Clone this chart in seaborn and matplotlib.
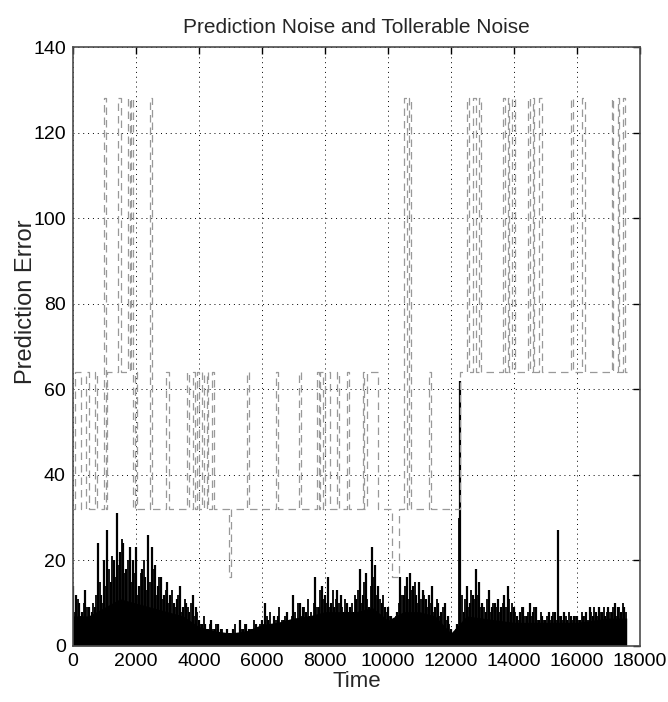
import numpy as np
import pandas as pd
import matplotlib
matplotlib.use("Agg")
import matplotlib.pyplot as plt
import seaborn as sns

# prediction noise: spike heights read every 100 time steps
noise_step = 100
noise_peak = [
    14, 12, 10, 8, 13, 9, 8, 9, 24, 12,
    20, 27, 15, 20, 31, 22, 24, 18, 23, 20,
    23, 14, 18, 16, 26, 23, 19, 14, 16, 12,
    15, 12, 10, 11, 14, 9, 10, 8, 12, 9,
    6, 5, 5, 4, 6, 4, 5, 4, 3, 4,
    3, 4, 3, 6, 4, 5, 4, 4, 5, 4,
    6, 10, 6, 5, 7, 7, 5, 6, 8, 5,
    12, 6, 10, 9, 8, 7, 6, 16, 9, 14,
    12, 16, 10, 9, 13, 12, 8, 10, 9, 8,
    11, 18, 12, 17, 9, 23, 19, 14, 10, 9,
    9, 7, 6, 8, 16, 12, 16, 17, 14, 12,
    15, 13, 11, 12, 14, 9, 10, 8, 10, 7,
    4, 3, 5, 62, 8, 14, 10, 12, 18, 15,
    10, 8, 13, 9, 10, 11, 9, 12, 14, 8,
    9, 7, 8, 9, 7, 10, 8, 9, 6, 7,
    6, 8, 7, 8, 27, 7, 8, 6, 7, 7,
    7, 6, 7, 8, 9, 7, 8, 9, 8, 7,
    9, 8, 10, 9, 8, 9,
]
# smaller spikes sitting halfway between the ones above
noise_mid = [
    8, 11, 7, 10, 9, 7, 10, 12, 15, 10,
    14, 18, 21, 16, 19, 25, 17, 20, 15, 17,
    12, 17, 20, 13, 15, 18, 12, 16, 11, 13,
    10, 13, 9, 12, 8, 11, 9, 10, 7, 8,
    5, 7, 4, 5, 4, 5, 3, 4, 3, 3,
    3, 5, 3, 4, 5, 3, 4, 6, 3, 5,
    5, 7, 8, 5, 6, 9, 6, 7, 6, 7,
    8, 10, 7, 9, 11, 8, 10, 9, 13, 11,
    10, 9, 13, 11, 10, 9, 11, 8, 10, 12,
    13, 10, 15, 11, 14, 16, 12, 11, 12, 8,
    7, 6, 7, 10, 12, 14, 11, 13, 15, 10,
    11, 12, 9, 10, 8, 11, 7, 9, 6, 5,
    3, 4, 30, 12, 11, 9, 13, 11, 12, 9,
    9, 11, 8, 10, 9, 8, 10, 9, 11, 10,
    8, 6, 9, 7, 8, 7, 9, 6, 8, 6,
    7, 6, 8, 6, 7, 6, 7, 8, 6, 7,
    6, 8, 7, 6, 8, 9, 7, 8, 9, 8,
    8, 9, 7, 9, 10, 8,
]
noise_time = np.arange(len(noise_peak)) * noise_step
mid_time = noise_time + noise_step // 2

# dense floor of the noise band
base_time = [0, 500, 1000, 1500, 2000, 2500, 3000, 3500, 4000, 4500,
             5000, 5500, 6000, 6500, 7000, 7500, 8000, 8500, 9000, 9500,
             10000, 10500, 11000, 11500, 12000, 12500, 13000, 13500, 14000, 14500,
             15000, 15500, 16000, 16500, 17000, 17580]
base_level = [7, 7, 9, 11, 10, 9, 8, 7, 4.5, 3.5,
              3, 3.5, 5, 5.5, 6.5, 7, 8, 8, 8, 9,
              6, 8, 8, 7, 3, 7, 6.5, 6, 5.5, 5.5,
              5.5, 5.5, 5.5, 6, 6.5, 6.5]

# tollerable noise: switching times and level after each switch
tol_time = [0, 60, 250, 420, 520, 700, 760, 1000, 1060, 1100,
            1450, 1520, 1760, 1800, 1860, 1900, 1980, 2030, 2440, 2520,
            2950, 3050, 3620, 3700, 3800, 3870, 3950, 4020, 4100, 4150,
            4250, 4300, 4420, 4480, 4950, 5020, 5530, 5600, 6440, 6500,
            7180, 7240, 7740, 7800, 7860, 7950, 8000, 8150, 8400, 8450,
            8700, 8780, 9200, 9250, 9350, 9700, 10120, 10350, 10520, 10600,
            10660, 10720, 11300, 11360, 12280, 12500, 12560, 12700, 12800, 12900,
            12960, 13650, 13720, 13800, 13850, 13950, 14050, 14450, 14500, 14600,
            14650, 14800, 14900, 15800, 15870, 16150, 16250, 17100, 17150, 17300,
            17350, 17450, 17520, 17600]
tol_level = [32, 64, 32, 64, 32, 64, 32, 128, 32, 64,
             128, 64, 128, 64, 128, 32, 64, 32, 128, 32,
             64, 32, 64, 32, 64, 32, 64, 32, 64, 32,
             64, 32, 64, 32, 16, 32, 64, 32, 64, 32,
             64, 32, 64, 32, 64, 32, 64, 32, 64, 32,
             64, 32, 64, 32, 64, 32, 16, 32, 128, 32,
             128, 32, 64, 32, 64, 128, 64, 128, 64, 128,
             64, 128, 64, 128, 64, 128, 64, 128, 64, 128,
             64, 128, 64, 128, 64, 128, 64, 128, 64, 128,
             64, 128, 64, 64]

x_ticks = list(range(0, 18001, 2000))
y_ticks = list(range(0, 141, 20))

sns.set_theme(style="white")
plt.rcParams["font.family"] = ["Liberation Sans", "DejaVu Sans"]

fig = plt.figure(figsize=(6.68, 7.02), dpi=100)
ax = fig.add_axes([0.109, 0.080, 0.849, 0.853])

# noise band
ax.fill_between(base_time, 0, base_level, color="black", lw=0, zorder=2)
ax.vlines(noise_time, 0, noise_peak, color="black", lw=1.6, zorder=2)
ax.vlines(mid_time, 0, noise_mid, color="black", lw=1.3, zorder=2)

# tollerable noise
df_tol = pd.DataFrame({"time": tol_time, "level": tol_level})
sns.lineplot(data=df_tol, x="time", y="level", drawstyle="steps-post",
             color="0.6", lw=0.9, linestyle=(0, (6, 4)), ax=ax, zorder=3)

ax.set_xlim(0, 18000)
ax.set_ylim(0, 140)
ax.set_xticks(x_ticks)
ax.set_yticks(y_ticks)
ax.grid(True, color="black", linestyle=(0, (1, 4)), lw=0.7)
ax.set_axisbelow(True)
ax.tick_params(direction="in", length=5, width=1, top=True, right=True,
               labelsize=14, pad=5, colors="black")
for s in ax.spines.values():
    s.set_color("0.3")
    s.set_linewidth(1.2)

ax.set_title("Prediction Noise and Tollerable Noise", fontsize=15, pad=10)
ax.set_xlabel("Time", fontsize=16, labelpad=1)
ax.set_ylabel("Prediction Error", fontsize=17)
ax.yaxis.set_label_coords(-0.063, 0.575)

fig.savefig("out.png", dpi=100)
